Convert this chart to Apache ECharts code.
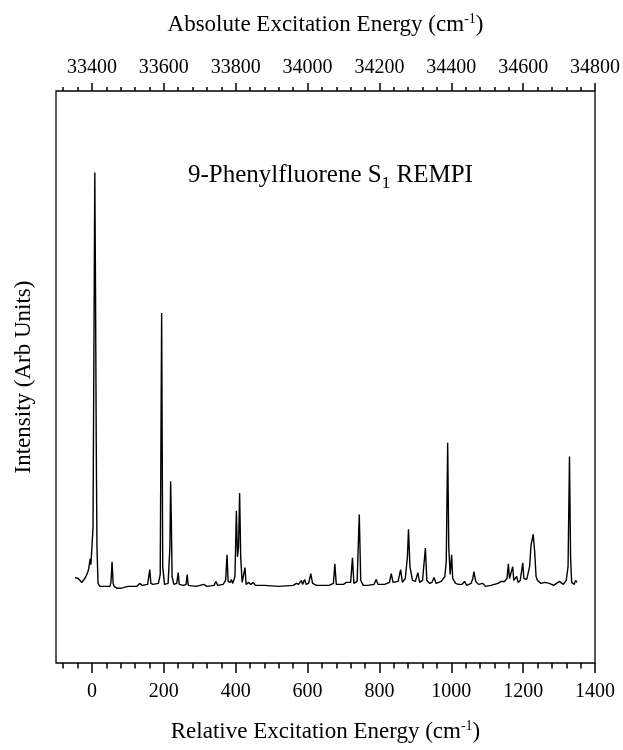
<!DOCTYPE html>
<html>
<head>
<meta charset="utf-8">
<script src="https://cdn.jsdelivr.net/npm/echarts@6/dist/echarts.min.js"></script>
<style>html,body{margin:0;padding:0;background:#fff;}#c{width:623px;height:750px;}</style>
</head>
<body>
<div id="c"></div>
<script>
// Relative excitation energy (cm^-1) and REMPI intensity (arb. units)
const relEnergy = [-47,-42,-38,-33,-28,-24,-18,-12,-9,-7,-5,-3,0,3,5,8,10,12,14,17,22,40,50,53,56,59,62,70,80,100,125,133,140,155,158,161,164,170,185,190,194,197,202,212,217,219,221,223,228,236,240,243,255,262,265,268,290,311,320,340,345,350,365,372,376,379,385,388,392,398,402,405,408,411,414,418,423,426,429,436,442,449,455,480,520,560,569,575,580,583,586,590,592,596,603,609,614,625,660,672,676,680,700,705,708,712,720,725,729,738,744,748,755,768,785,791,796,815,828,833,838,852,859,864,872,878,881,885,892,900,907,912,920,928,932,940,946,952,958,972,982,986,990,993,997,1001,1004,1012,1020,1030,1037,1043,1055,1060,1063,1068,1076,1088,1095,1110,1130,1139,1148,1155,1159,1162,1166,1171,1174,1178,1182,1186,1192,1199,1202,1210,1218,1222,1226,1228,1232,1236,1240,1244,1250,1260,1273,1285,1301,1312,1320,1325,1329,1332,1335,1338,1342,1346,1350];
const intensity = [9,11,8,6,4,5,9,14,18,16,28,22,40,60,205,421,300,146,40,3,0,0,0,4,25,3,0,-2,-2,0,0,3,1,2,4,17,3,2,3,12,278,20,2,3,40,107,67,10,2,3,14,2,1,2,12,1,0,2,0,1,5,1,2,6,32,5,4,7,3,10,77,30,40,95,30,4,3,19,2,4,2,4,1,1,0,1,3,2,3,6,2,4,7,2,3,13,3,1,1,3,23,2,2,3,4,2,4,29,3,5,73,6,1,1,2,7,2,2,4,13,4,5,17,4,8,30,58,20,6,5,14,4,6,39,6,3,4,9,3,5,10,25,146,40,12,32,8,3,2,2,5,1,3,8,15,5,2,3,0,1,3,5,5,8,23,8,9,20,6,5,10,4,6,24,8,7,20,42,40,53,36,10,6,8,3,4,3,1,5,2,6,20,132,30,4,5,2,6,4];

const bottomMajorTicks = [0,200,400,600,800,1000,1200,1400];
const bottomMinorTicks = [-80,-40,40,80,120,160,240,280,320,360,440,480,520,560,640,680,720,760,840,880,920,960,1040,1080,1120,1160,1240,1280,1320,1360];
const topMajorTicks = [33400,33600,33800,34000,34200,34400,34600,34800];
const topMinorTicks = [33320,33360,33440,33480,33520,33560,33640,33680,33720,33760,33840,33880,33920,33960,34040,34080,34120,34160,34240,34280,34320,34360,34440,34480,34520,34560,34640,34680,34720,34760];

const FONT = '"Liberation Serif", "Times New Roman", serif';
const richTitle = {
  n: { fontFamily: FONT, fontSize: 23, color: '#000', lineHeight: 26 },
  s: { fontFamily: FONT, fontSize: 14, color: '#000', lineHeight: 14, padding: [0, 0, 12, 0] }
};

const chart = echarts.init(document.getElementById('c'), null, { renderer: 'canvas' });

function tickAxis(pos, min, max, ticks, len, withLabels, labelMargin, extra) {
  return Object.assign({
    type: 'value', position: pos, min: min, max: max, gridIndex: 0,
    axisLine: { show: false, onZero: false },
    splitLine: { show: false },
    axisTick: { show: true, customValues: ticks, length: len, inside: false,
                lineStyle: { color: '#000', width: 1.5 } },
    axisLabel: withLabels ? { show: true, customValues: ticks, margin: labelMargin,
                fontFamily: FONT, fontSize: 20, color: '#000',
                formatter: function (v) { return String(Math.round(v)); } } : { show: false }
  }, extra || {});
}

chart.setOption({
  animation: false,
  backgroundColor: '#fff',
  grid: { left: 56, right: 27.5, top: 91, bottom: 77, show: true,
          borderColor: '#000', borderWidth: 1.3, backgroundColor: 'transparent' },
  xAxis: [
    tickAxis('bottom', -100, 1400, bottomMajorTicks, 10, true, 19, {
      name: '{n|Relative Excitation Energy (cm}{s|-1}{n|)}',
      nameLocation: 'middle', nameGap: 56,
      nameTextStyle: { fontFamily: FONT, fontSize: 23, color: '#000', rich: richTitle }
    }),
    tickAxis('bottom', -100, 1400, bottomMinorTicks, 5.5, false),
    tickAxis('top', 33300, 34800, topMajorTicks, 8, true, 13, {
      name: '{n|Absolute Excitation Energy (cm}{s|-1}{n|)}',
      nameLocation: 'middle', nameGap: 53,
      nameTextStyle: { fontFamily: FONT, fontSize: 23, color: '#000', rich: richTitle }
    }),
    tickAxis('top', 33300, 34800, topMinorTicks, 4, false)
  ],
  yAxis: {
    type: 'value', min: -78, max: 504,
    axisLine: { show: false, onZero: false }, axisTick: { show: false }, axisLabel: { show: false },
    splitLine: { show: false },
    name: 'Intensity (Arb Units)', nameLocation: 'middle', nameGap: 21, nameRotate: 90,
    nameTextStyle: { fontFamily: FONT, fontSize: 23, color: '#000' }
  },
  graphic: [{
    type: 'text', left: 188, top: 158,
    style: {
      text: '{a|9-Phenylfluorene S}{b|1}{a| REMPI}',
      rich: {
        a: { fontFamily: FONT, fontSize: 25, fill: '#000', color: '#000', lineHeight: 27 },
        b: { fontFamily: FONT, fontSize: 17, fill: '#000', color: '#000', lineHeight: 17, padding: [17, 0, 0, 0] }
      }
    }
  }],
  series: [{
    type: 'line', xAxisIndex: 0, yAxisIndex: 0,
    data: relEnergy.map((v, i) => [v, intensity[i]]),
    showSymbol: false, symbol: 'none', smooth: false,
    lineStyle: { color: '#000', width: 1.4 },
    silent: true
  }]
});
</script>
</body>
</html>
